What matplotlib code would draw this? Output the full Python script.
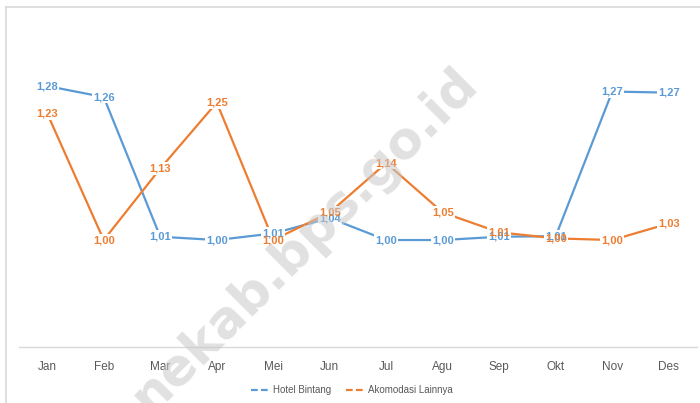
import matplotlib.pyplot as plt
from matplotlib.lines import Line2D

# data
months = ["Jan", "Feb", "Mar", "Apr", "Mei", "Jun", "Jul", "Agu", "Sep", "Okt", "Nov", "Des"]
hotel_bintang = [1.28, 1.26, 1.006, 1.00, 1.012, 1.04, 1.00, 1.00, 1.006, 1.007, 1.27, 1.268]
akomodasi_lainnya = [1.23, 1.00, 1.13, 1.25, 1.00, 1.05, 1.14, 1.05, 1.014, 1.003, 1.00, 1.03]

BLUE = "#5B9BD5"
ORANGE = "#ED7D31"
GRID = "#D9D9D9"
TEXT = "#595959"
FONT = ["Liberation Sans Narrow", "Liberation Sans", "DejaVu Sans"]

plt.rcParams["font.family"] = FONT

fig = plt.figure(figsize=(7.0, 4.03), dpi=100)
ax = fig.add_axes([19 / 700, 56 / 403, 678 / 700, 300 / 403])

x = list(range(len(months)))
ax.plot(x, hotel_bintang, color=BLUE, lw=1.6, zorder=2)
ax.plot(x, akomodasi_lainnya, color=ORANGE, lw=1.6, zorder=2)


def label_text(v):
    return f"{v:.2f}".replace(".", ",")


# white boxes first so the lines break around the labels
for values in (hotel_bintang, akomodasi_lainnya):
    for xi, v in zip(x, values):
        ax.text(xi, v, label_text(v), color="none", fontsize=8, fontweight="bold",
                ha="center", va="center", zorder=3,
                bbox=dict(boxstyle="square,pad=0.12", fc="white", ec="none"))

# then the label texts themselves, unfilled so overlapping labels stay visible
for values, color in ((hotel_bintang, BLUE), (akomodasi_lainnya, ORANGE)):
    for xi, v in zip(x, values):
        ax.text(xi, v, label_text(v), color=color, fontsize=8, fontweight="bold",
                ha="center", va="center", zorder=4)

ax.set_xlim(-0.5, 11.5)
ax.set_ylim(0.8055, 1.351)
ax.set_xticks(x)
ax.set_xticklabels(months, color=TEXT, fontsize=8.5)
ax.set_yticks([])
ax.tick_params(axis="x", length=0, pad=10)
for side in ["top", "right", "left"]:
    ax.spines[side].set_visible(False)
ax.spines["bottom"].set_color(GRID)
ax.spines["bottom"].set_linewidth(1.0)

handles = [
    Line2D([], [], color=BLUE, lw=1.6, linestyle=(0, (3, 1.5))),
    Line2D([], [], color=ORANGE, lw=1.6, linestyle=(0, (3, 1.5))),
]
fig.legend(handles, ["Hotel Bintang", "Akomodasi Lainnya"], loc="center",
           bbox_to_anchor=(352 / 700, 1 - 390 / 403), ncol=2, frameon=False,
           fontsize=7, labelcolor=TEXT, handlelength=2.0, handletextpad=0.3,
           columnspacing=1.5)

# chart frame (top and left edges visible)
fig.add_artist(Line2D([6 / 700, 6 / 700], [0, 1 - 7 / 403], color=GRID, lw=1.2,
                      transform=fig.transFigure))
fig.add_artist(Line2D([6 / 700, 1], [1 - 7 / 403, 1 - 7 / 403], color=GRID, lw=1.2,
                      transform=fig.transFigure))

# watermark
fig.text(480 / 700, 1 - 85 / 403, "nekab.bps.go.id", fontsize=37, fontweight="bold",
         family=["DejaVu Sans"], color="#C8C8C8", alpha=0.55, rotation=45,
         rotation_mode="anchor", ha="right", va="baseline", zorder=10)

fig.savefig("out.png", dpi=100, facecolor="white")
